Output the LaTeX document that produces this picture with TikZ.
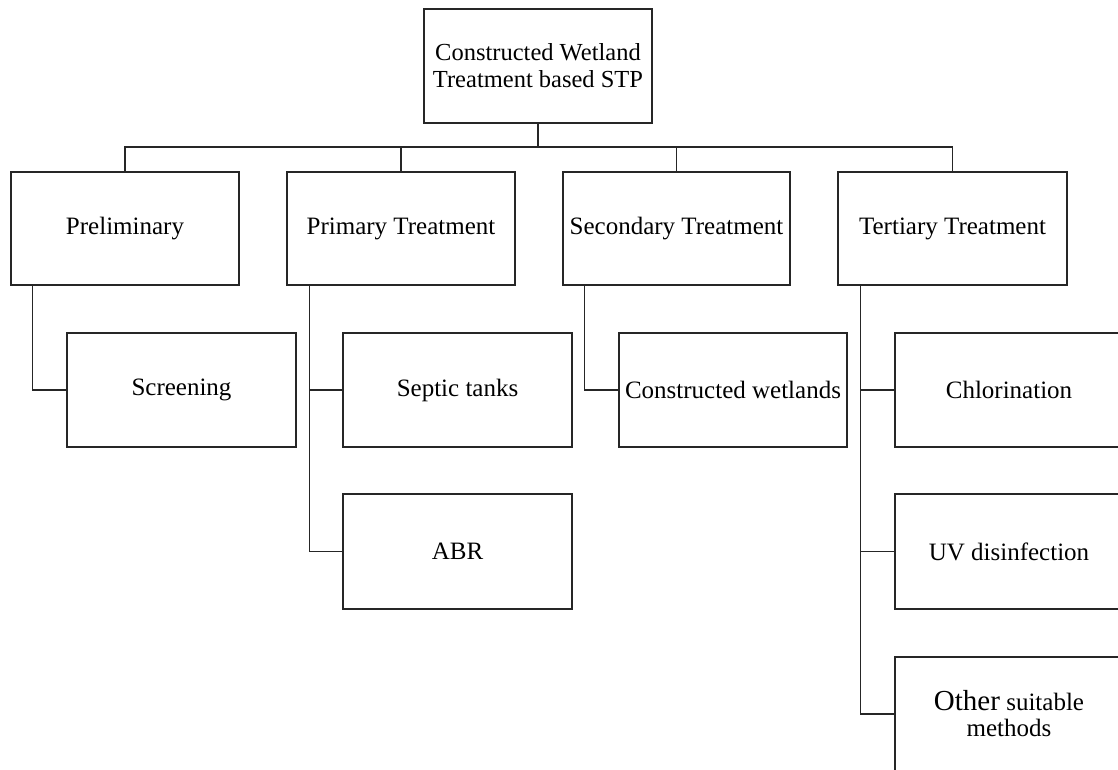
\documentclass[tikz,border=0pt]{standalone}
\usepackage{fontspec}
\setmainfont{Liberation Serif}
\tikzset{
  box/.style={draw=black!85, line width=1.2pt, minimum width=228pt, minimum height=114pt, inner sep=0pt, align=center, font=\fontsize{25}{27}\selectfont},
  link/.style={draw=black!85, line width=1.2pt}
}
\begin{document}
\begin{tikzpicture}[x=1pt,y=-1pt]
\clip (0,0) rectangle (1118,769);
\useasboundingbox (0,0) rectangle (1118,769);
\fill[white] (0,0) rectangle (1118,769);
\node[box, font=\fontsize{24.5}{27}\selectfont] (top) at (538,66) {Constructed Wetland\\Treatment based STP};
\node[box, minimum height=113pt] (pre) at (125,228.5) {Preliminary};
\node[box, minimum height=113pt] (pri) at (401,228.5) {Primary Treatment};
\node[box, minimum height=113pt, minimum width=227pt] (sec) at (676.5,228.5) {Secondary Treatment};
\node[box, minimum height=113pt, minimum width=229pt] (ter) at (952.5,228.5) {Tertiary Treatment};
\node[box, minimum width=229pt] (scr) at (181.5,390) {Screening};
\node[box, minimum width=229pt] (sep) at (457.5,390) {Septic tanks};
\node[box, minimum height=115pt, minimum width=229pt] (abr) at (457.5,551.5) {ABR};
\node[box] (cw) at (733,390) {Constructed wetlands};
\node[box] (chl) at (1009,390) {Chlorination};
\node[box, minimum height=115pt] (uv) at (1009,551.5) {UV disinfection};
\node[box, font=\fontsize{25}{26}\selectfont] (oth) at (1009,714) {{\fontsize{29}{26}\selectfont Other} suitable\\methods};
\coordinate (bus) at (538,147);
\draw[link] (top.south) -- (bus);
\draw[link] (pre.north) |- (bus);
\draw[link] (pri.north) |- (bus);
\draw[link] (sec.north) |- (bus);
\draw[link] (ter.north) |- (bus);
\draw[link] ([xshift=22pt]pre.south west) |- (scr.west);
\draw[link] ([xshift=23pt]pri.south west) |- (sep.west);
\draw[link] ([xshift=23pt]pri.south west) |- (abr.west);
\draw[link] ([xshift=22pt]sec.south west) |- (cw.west);
\draw[link] ([xshift=23pt]ter.south west) |- (chl.west);
\draw[link] ([xshift=23pt]ter.south west) |- (uv.west);
\draw[link] ([xshift=23pt]ter.south west) |- (oth.west);
\end{tikzpicture}
\end{document}
